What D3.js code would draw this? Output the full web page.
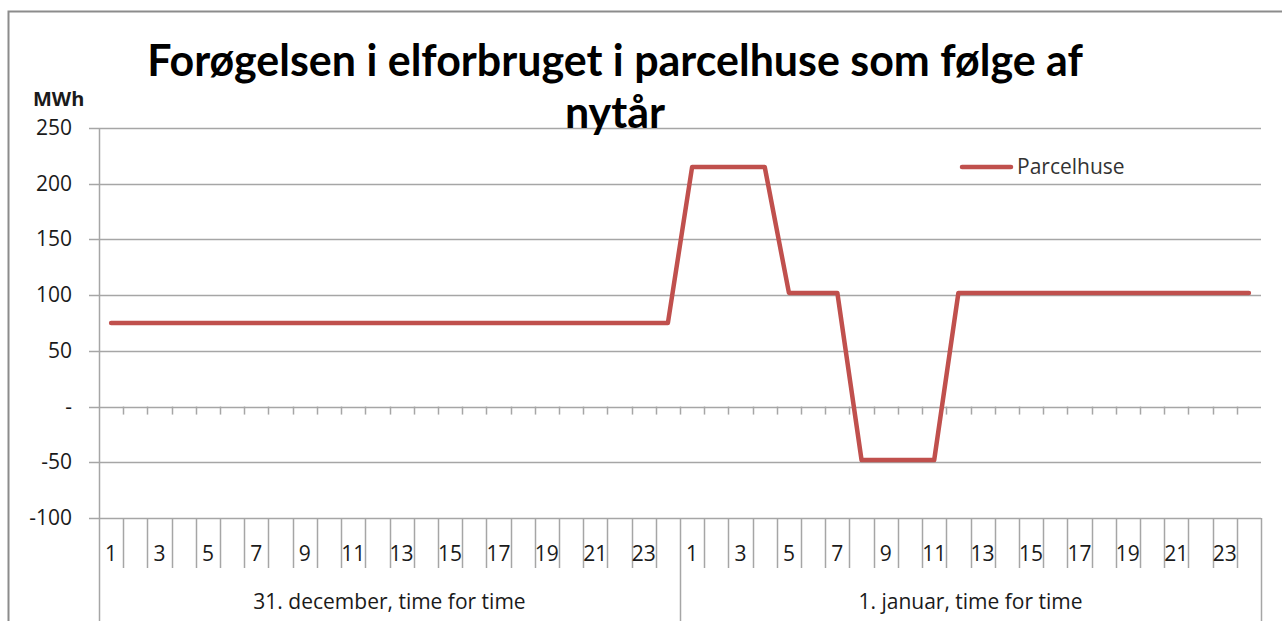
<!DOCTYPE html>
<html>
<head>
<meta charset="utf-8">
<script src="https://cdn.jsdelivr.net/npm/d3@7"></script>
<style>
  body { margin: 0; background: #fff; }
  text { font-family: "Open Sans", Lato, sans-serif; fill: #1a1a1a; }
</style>
</head>
<body>
<div id="chart"></div>
<script>
// hour labels per day, and the two day groups
const hours = [1, 2, 3, 4, 5, 6, 7, 8, 9, 10, 11, 12, 13, 14, 15, 16, 17, 18, 19, 20, 21, 22, 23, 24];
const days = ["31. december, time for time", "1. januar, time for time"];
// MWh, hour by hour
const dec31 = [75, 75, 75, 75, 75, 75, 75, 75, 75, 75, 75, 75, 75, 75, 75, 75, 75, 75, 75, 75, 75, 75, 75, 75];
const jan1 = [215, 215, 215, 215, 102, 102, 102, -48, -48, -48, -48, 102, 102, 102, 102, 102, 102, 102, 102, 102, 102, 102, 102, 102];
const yTicks = [250, 200, 150, 100, 50, 0, -50, -100];
const seriesName = "Parcelhuse";
const titleLines = ["Forøgelsen i elforbruget i parcelhuse som følge af", "nytår"];

const W = 1282, H = 621;
const margin = {top: 128, right: 21, bottom: 103, left: 99};
const gridColor = "#a6a6a6";
const fontSize = "21px";

const rows = [];
days.forEach((day, di) => {
  const vals = di === 0 ? dec31 : jan1;
  hours.forEach((h, hi) => rows.push({key: di + "-" + h, day: di, hour: h, value: vals[hi]}));
});

const svg = d3.select("#chart").append("svg")
  .attr("width", W)
  .attr("height", H);

svg.append("rect").attr("width", W).attr("height", H).attr("fill", "#fff");

// outer chart frame (cut off at right / bottom)
svg.append("path")
  .attr("d", `M8.5,${H + 5}V11.5H${W + 5}`)
  .attr("fill", "none")
  .attr("stroke", "#8c8c8c")
  .attr("stroke-width", 2);

const x = d3.scaleBand()
  .domain(rows.map(d => d.key))
  .range([margin.left, W - margin.right]);

const y = d3.scaleLinear()
  .domain([-100, 250])
  .range([H - margin.bottom, margin.top]);

const bw = x.bandwidth();
const x0 = margin.left, x1 = W - margin.right;
const yBottom = y(-100);

// horizontal grid + y labels
const yAxis = svg.append("g");
yAxis.selectAll("line")
  .data(yTicks)
  .enter()
  .append("line")
  .attr("x1", x0 - 10)
  .attr("x2", x1)
  .attr("y1", d => Math.round(y(d)) + 0.5)
  .attr("y2", d => Math.round(y(d)) + 0.5)
  .attr("stroke", gridColor)
  .attr("stroke-width", 1.5);

yAxis.selectAll("text")
  .data(yTicks)
  .enter()
  .append("text")
  .attr("x", 72)
  .attr("y", d => y(d) + 7)
  .attr("text-anchor", "end")
  .style("font-size", fontSize)
  .text(d => d === 0 ? "-" : d);

svg.append("text")
  .attr("x", 33)
  .attr("y", 106)
  .style("font-size", "20px")
  .style("font-weight", "bold")
  .text("MWh");

// vertical axis line
svg.append("line")
  .attr("x1", x0 + 0.5).attr("x2", x0 + 0.5)
  .attr("y1", y(250)).attr("y2", H)
  .attr("stroke", gridColor)
  .attr("stroke-width", 1.5);

// small ticks on the zero line
const boundaries = rows.slice(1).map(d => x(d.key));
svg.append("g").selectAll("line")
  .data(boundaries)
  .enter()
  .append("line")
  .attr("x1", d => Math.round(d) + 0.5)
  .attr("x2", d => Math.round(d) + 0.5)
  .attr("y1", y(0))
  .attr("y2", y(0) + 8)
  .attr("stroke", gridColor)
  .attr("stroke-width", 1.5);

// category separators below the plot
svg.append("g").selectAll("line")
  .data(boundaries.concat([x1]))
  .enter()
  .append("line")
  .attr("x1", d => Math.round(d) + 0.5)
  .attr("x2", d => Math.round(d) + 0.5)
  .attr("y1", yBottom)
  .attr("y2", d => (d === x(rows[24].key) || d === x1) ? H : yBottom + 50)
  .attr("stroke", gridColor)
  .attr("stroke-width", 1.5);

// hour labels, every other one
svg.append("g").selectAll("text")
  .data(rows.filter(d => d.hour % 2 === 1))
  .enter()
  .append("text")
  .attr("x", d => x(d.key) + bw / 2)
  .attr("y", yBottom + 43)
  .attr("text-anchor", "middle")
  .style("font-size", fontSize)
  .text(d => d.hour);

// day group labels
svg.append("g").selectAll("text")
  .data(days)
  .enter()
  .append("text")
  .attr("x", (d, i) => x(i + "-1") + bw * 12)
  .attr("y", 609)
  .attr("text-anchor", "middle")
  .style("font-size", fontSize)
  .text(d => d);

// the series
const line = d3.line()
  .x(d => x(d.key) + bw / 2)
  .y(d => y(d.value));

svg.append("path")
  .datum(rows)
  .attr("d", line)
  .attr("fill", "none")
  .attr("stroke", "#c0504d")
  .attr("stroke-width", 4.5)
  .attr("stroke-linejoin", "round")
  .attr("stroke-linecap", "round");

// legend
svg.append("line")
  .attr("x1", 962).attr("x2", 1011)
  .attr("y1", 167).attr("y2", 167)
  .attr("stroke", "#c0504d")
  .attr("stroke-width", 4.5)
  .attr("stroke-linecap", "round");
svg.append("text")
  .attr("x", 1017)
  .attr("y", 174)
  .style("font-size", fontSize)
  .style("fill", "#333")
  .text(seriesName);

// title
const title = svg.append("g");
const t1 = title.append("text")
  .attr("x", 615)
  .attr("y", 76)
  .attr("text-anchor", "middle")
  .style("font-family", "Lato, sans-serif")
  .style("font-weight", "bold")
  .style("font-size", "36px")
  .style("fill", "#000")
  .text(titleLines[0]);
const fs = 36 * 936 / t1.node().getComputedTextLength();
t1.style("font-size", fs + "px");
title.append("text")
  .attr("x", 615)
  .attr("y", 128)
  .attr("text-anchor", "middle")
  .style("font-family", "Lato, sans-serif")
  .style("font-weight", "bold")
  .style("font-size", fs + "px")
  .style("fill", "#000")
  .text(titleLines[1]);
</script>
</body>
</html>
